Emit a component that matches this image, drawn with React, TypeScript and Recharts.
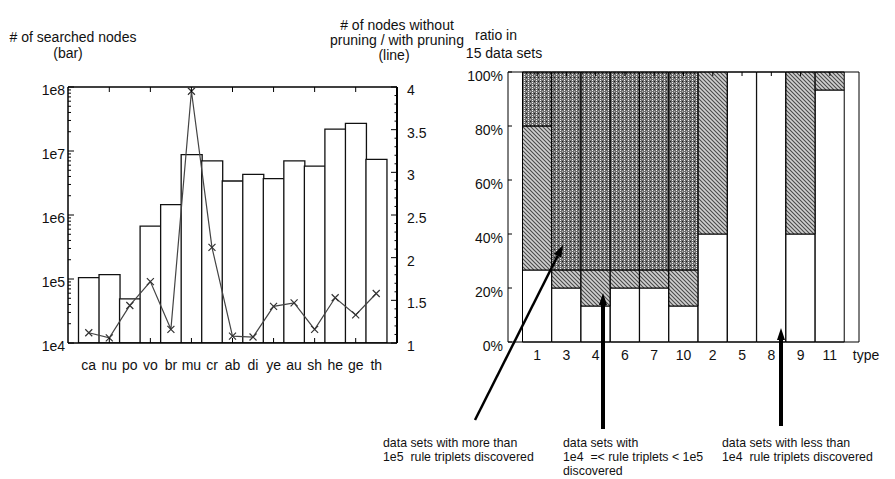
import React from "react";
import { ComposedChart, BarChart, Bar, Line, XAxis, YAxis } from "recharts";

// left panel: searched nodes (bars, log scale) and pruning ratio (line)
const datasets = ["ca", "nu", "po", "vo", "br", "mu", "cr", "ab", "di", "ye", "au", "sh", "he", "ge", "th"];
const searchedNodes = [1.05e5, 1.17e5, 4.9e4, 6.7e5, 1.45e6, 8.8e6, 7.0e6, 3.4e6, 4.3e6, 3.7e6, 7.0e6, 5.8e6, 2.2e7, 2.7e7, 7.4e6];
const pruningRatio = [1.12, 1.06, 1.44, 1.72, 1.16, 3.95, 2.12, 1.08, 1.07, 1.43, 1.47, 1.16, 1.53, 1.33, 1.58];
const nodeTicks = [1e4, 1e5, 1e6, 1e7, 1e8];
const nodeTickLabels = ["1e4", "1e5", "1e6", "1e7", "1e8"];
const ratioTicks = [1, 1.5, 2, 2.5, 3, 3.5, 4];
const ratioTickLabels = ["1", "1.5", "2", "2.5", "3", "3.5", "4"];

// right panel: share of the 15 data sets per type
const types = ["1", "3", "4", "6", "7", "10", "2", "5", "8", "9", "11"];
const fewCounts = [4, 3, 2, 3, 3, 2, 6, 15, 15, 6, 14];
const midCounts = [8, 1, 2, 1, 1, 2, 9, 0, 0, 9, 1];
const manyCounts = [3, 11, 11, 11, 11, 11, 0, 0, 0, 0, 0];
const totalSets = 15;
const shareTicks = [0, 20, 40, 60, 80, 100];
const shareTickLabels = ["0%", "20%", "40%", "60%", "80%", "100%"];

const leftData = datasets.map((name, i) => ({ name, nodes: searchedNodes[i], ratio: pruningRatio[i] }));
const rightData = types.map((type, i) => ({
  type,
  few: (fewCounts[i] / totalSets) * 100,
  mid: (midCounts[i] / totalSets) * 100,
  many: (manyCounts[i] / totalSets) * 100,
}));

// minor tick positions (axis decoration only)
const nodeMinor: number[] = [];
nodeTicks.slice(0, -1).forEach((d) => {
  for (let k = 2; k <= 9; k++) nodeMinor.push(k * d);
});
const nodeAllTicks = [...nodeTicks, ...nodeMinor].sort((a, b) => a - b);
const ratioAllTicks: number[] = [];
for (let i = 0; i <= 30; i++) ratioAllTicks.push(+(1 + i * 0.1).toFixed(1));

const font = "'Liberation Sans', Arial, Helvetica, sans-serif";
const txt = { fontFamily: font, fontSize: 14, fill: "#111" };

function NodeTick(props: any) {
  const { x, y, payload } = props;
  const idx = nodeTicks.indexOf(payload.value);
  const major = idx >= 0;
  return (
    <g>
      <line x1={x} y1={y} x2={x + (major ? 6 : 3)} y2={y} stroke="#000" />
      {major && (
        <text x={x - 3} y={y} dy={8} textAnchor="end" {...txt}>
          {nodeTickLabels[idx]}
        </text>
      )}
    </g>
  );
}

function RatioTick(props: any) {
  const { x, y, payload } = props;
  const idx = ratioTicks.findIndex((t) => Math.abs(t - payload.value) < 1e-6);
  const major = idx >= 0;
  return (
    <g>
      <line x1={x} y1={y} x2={x - (major ? 6 : 2.5)} y2={y} stroke="#000" />
      {major && (
        <text x={x + 10} y={y} dy={8} textAnchor="start" {...txt}>
          {ratioTickLabels[idx]}
        </text>
      )}
    </g>
  );
}

function LeftTopTick(props: any) {
  const { x, y, index } = props;
  if (index % 2 !== 1) return <g />;
  return <line x1={x} y1={y} x2={x} y2={y + 5} stroke="#000" />;
}

function LeftBottomTick(props: any) {
  const { x, y, index, payload } = props;
  return (
    <g>
      {index % 2 === 1 && <line x1={x} y1={y} x2={x} y2={y - 5} stroke="#000" />}
      <text x={x} y={y} dy={27} textAnchor="middle" {...txt}>
        {payload.value}
      </text>
    </g>
  );
}

function ShareTick(props: any) {
  const { x, y, payload } = props;
  const idx = shareTicks.indexOf(payload.value);
  return (
    <g>
      <line x1={x} y1={y} x2={x + 4} y2={y} stroke="#000" />
      <text x={x - 5} y={y} dy={9} textAnchor="end" {...txt}>
        {shareTickLabels[idx]}
      </text>
    </g>
  );
}

function ShareRightTick(props: any) {
  const { x, y } = props;
  return <line x1={x} y1={y} x2={x - 4} y2={y} stroke="#000" />;
}

function TypeTopTick(props: any) {
  const { x, y } = props;
  return <line x1={x} y1={y} x2={x} y2={y + 4} stroke="#000" />;
}

function TypeBottomTick(props: any) {
  const { x, y, payload } = props;
  return (
    <text x={x} y={y} dy={18} textAnchor="middle" {...txt}>
      {payload.value}
    </text>
  );
}

function Cross(props: any) {
  const { cx, cy, index } = props;
  const s = 3.5;
  return (
    <path
      key={`x-${index}`}
      d={`M${cx - s},${cy - s}L${cx + s},${cy + s}M${cx - s},${cy + s}L${cx + s},${cy - s}`}
      stroke="#333"
      strokeWidth={1.2}
      fill="none"
    />
  );
}

// annotation text: slightly condensed like the original
function Note({ x, y, children }: { x: number; y: number; children: string }) {
  return (
    <text
      transform={`translate(${x},${y}) scale(0.95,1)`}
      fontSize={13}
      xmlSpace="preserve"
      style={{ whiteSpace: "pre" }}
    >
      {children}
    </text>
  );
}

export default function App() {
  return (
    <div style={{ position: "absolute", left: 0, top: 0, width: 895, height: 479, background: "#fff" }}>
      <div style={{ position: "absolute", left: 0, top: 0 }}>
        <ComposedChart
          width={435}
          height={380}
          data={leftData}
          margin={{ top: 83, right: 5, bottom: 7, left: 0 }}
          barCategoryGap={0}
        >
          <XAxis
            xAxisId="b"
            dataKey="name"
            padding={{ left: 10.5, right: 10.5 }}
            height={30}
            interval={0}
            tickSize={0}
            tickMargin={0}
            tickLine={false}
            tick={LeftBottomTick}
            axisLine={{ stroke: "#000", strokeWidth: 1.5 }}
          />
          <XAxis
            xAxisId="t"
            orientation="top"
            dataKey="name"
            padding={{ left: 10.5, right: 10.5 }}
            height={4}
            interval={0}
            tickSize={0}
            tickMargin={0}
            tickLine={false}
            tick={LeftTopTick}
            axisLine={{ stroke: "#000", strokeWidth: 1.5 }}
          />
          <YAxis
            yAxisId="l"
            type="number"
            scale="log"
            domain={[1e4, 1e8]}
            allowDataOverflow
            ticks={nodeAllTicks}
            interval={0}
            width={68}
            tickSize={0}
            tickMargin={0}
            tickLine={false}
            tick={NodeTick}
            axisLine={{ stroke: "#000", strokeWidth: 1.5 }}
          />
          <YAxis
            yAxisId="r"
            orientation="right"
            type="number"
            domain={[1, 4]}
            allowDataOverflow
            ticks={ratioAllTicks}
            interval={0}
            width={33}
            tickSize={0}
            tickMargin={0}
            tickLine={false}
            tick={RatioTick}
            axisLine={{ stroke: "#000", strokeWidth: 2 }}
          />
          <Bar
            xAxisId="b"
            yAxisId="l"
            dataKey="nodes"
            fill="#fff"
            stroke="#111"
            strokeWidth={1.3}
            isAnimationActive={false}
          />
          <Line
            xAxisId="b"
            yAxisId="r"
            dataKey="ratio"
            type="linear"
            stroke="#444"
            strokeWidth={1.2}
            dot={Cross}
            activeDot={false}
            isAnimationActive={false}
          />
        </ComposedChart>
      </div>

      <div style={{ position: "absolute", left: 440, top: 0 }}>
        <BarChart
          width={455}
          height={380}
          data={rightData}
          margin={{ top: 68, right: 30, bottom: 8, left: 0 }}
          barCategoryGap={0}
        >
          <defs>
            <pattern id="hatch" width="4" height="4" patternUnits="userSpaceOnUse">
              <rect width="4" height="4" fill="#d0d0d0" />
              <path d="M-1,-1 L5,5 M-1,3 L1,5 M3,-1 L5,1" stroke="#4a4a4a" strokeWidth="1.1" />
            </pattern>
            <pattern id="dots" width="4" height="4" patternUnits="userSpaceOnUse">
              <rect width="4" height="4" fill="#6e6e6e" />
              <rect x="0" y="0" width="1" height="1" fill="#f4f4f4" />
              <rect x="0" y="2" width="1" height="1" fill="#f4f4f4" />
              <rect x="2" y="1" width="1" height="1" fill="#1a1a1a" />
              <rect x="2" y="3" width="1" height="1" fill="#b0b0b0" />
            </pattern>
          </defs>
          <XAxis
            xAxisId="b"
            dataKey="type"
            padding={{ left: 14.5, right: 14.5 }}
            height={30}
            interval={0}
            tickSize={0}
            tickMargin={0}
            tickLine={false}
            tick={TypeBottomTick}
            axisLine={{ stroke: "#000" }}
          />
          <XAxis
            xAxisId="t"
            orientation="top"
            dataKey="type"
            padding={{ left: 14.5, right: 14.5 }}
            height={4}
            interval={0}
            tickSize={0}
            tickMargin={0}
            tickLine={false}
            tick={TypeTopTick}
            axisLine={{ stroke: "#000" }}
          />
          <YAxis
            yAxisId="l"
            type="number"
            domain={[0, 100]}
            ticks={shareTicks}
            interval={0}
            width={68}
            tickSize={0}
            tickMargin={0}
            tickLine={false}
            tick={ShareTick}
            axisLine={{ stroke: "#000" }}
          />
          <YAxis
            yAxisId="r"
            orientation="right"
            type="number"
            domain={[0, 100]}
            ticks={shareTicks}
            interval={0}
            width={6}
            tickSize={0}
            tickMargin={0}
            tickLine={false}
            tick={ShareRightTick}
            axisLine={{ stroke: "#000" }}
          />
          <Bar xAxisId="b" yAxisId="l" dataKey="few" stackId="s" fill="#fff" stroke="#000" strokeWidth={1} isAnimationActive={false} />
          <Bar xAxisId="b" yAxisId="l" dataKey="mid" stackId="s" fill="url(#hatch)" stroke="#000" strokeWidth={1} isAnimationActive={false} />
          <Bar xAxisId="b" yAxisId="l" dataKey="many" stackId="s" fill="url(#dots)" stroke="#000" strokeWidth={1} isAnimationActive={false} />
        </BarChart>
      </div>

      <svg
        width={895}
        height={479}
        style={{ position: "absolute", left: 0, top: 0, pointerEvents: "none" }}
        fontFamily={font}
        fill="#111"
      >
        <defs>
          <marker id="head" viewBox="0 0 12 8" refX="0" refY="4" markerWidth="12" markerHeight="8" markerUnits="userSpaceOnUse" orient="auto">
            <path d="M0,0 L12,4 L0,8 z" fill="#000" />
          </marker>
        </defs>
        <g fontSize={14} textAnchor="middle">
          <text x={73} y={42}># of searched nodes</text>
          <text x={68} y={58}>(bar)</text>
          <text x={397} y={30}># of nodes without</text>
          <text x={397} y={45}>pruning / with pruning</text>
          <text x={394} y={60}>(line)</text>
          <text x={496} y={40}>ratio in</text>
          <text x={504} y={58}>15 data sets</text>
          <text x={866} y={360}>type</text>
        </g>
        <line x1={475} y1={420} x2={557.7} y2={255.8} stroke="#000" strokeWidth={2.5} markerEnd="url(#head)" />
        <line x1={603} y1={429} x2={603} y2={305} stroke="#000" strokeWidth={4} markerEnd="url(#head)" />
        <line x1={781} y1={426} x2={781} y2={340} stroke="#000" strokeWidth={4} markerEnd="url(#head)" />
        <Note x={383} y={447}>data sets with more than</Note>
        <Note x={383} y={461}>1e5  rule triplets discovered</Note>
        <Note x={563} y={447}>data sets with</Note>
        <Note x={563} y={461}>1e4  =&lt; rule triplets &lt; 1e5</Note>
        <Note x={563} y={475}>discovered</Note>
        <Note x={722} y={447}>data sets with less than</Note>
        <Note x={722} y={461}>1e4  rule triplets discovered</Note>
      </svg>
    </div>
  );
}
